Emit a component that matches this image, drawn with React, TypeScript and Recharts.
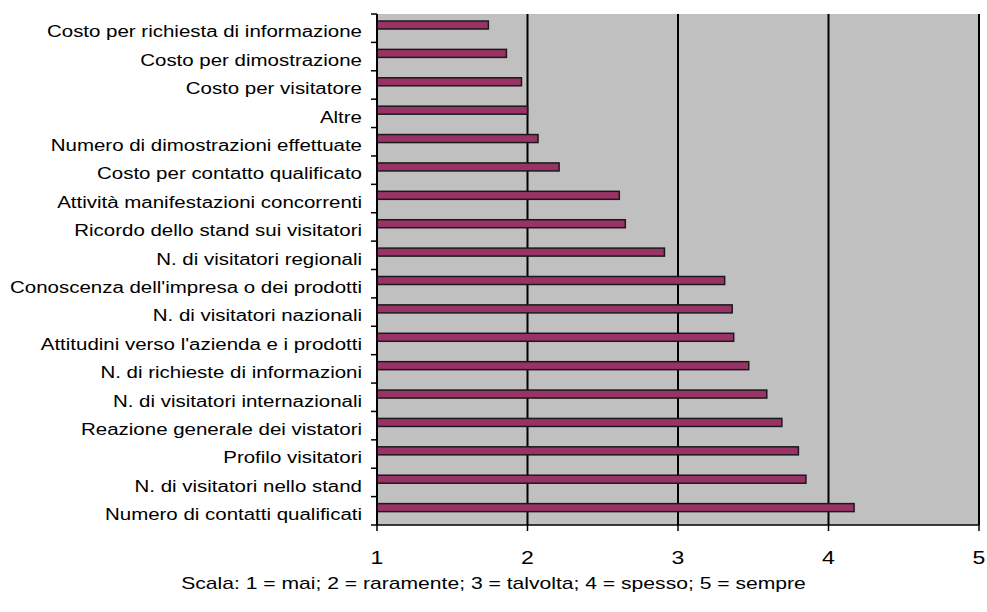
import React from 'react';
import { BarChart, Bar, XAxis, YAxis, CartesianGrid } from 'recharts';

// Evaluation criteria, listed top to bottom
const categories = [
  'Costo per richiesta di informazione',
  'Costo per dimostrazione',
  'Costo per visitatore',
  'Altre',
  'Numero di dimostrazioni effettuate',
  'Costo per contatto qualificato',
  'Attività manifestazioni concorrenti',
  'Ricordo dello stand sui visitatori',
  'N. di visitatori regionali',
  "Conoscenza dell'impresa o dei prodotti",
  'N. di visitatori nazionali',
  "Attitudini verso l'azienda e i prodotti",
  'N. di richieste di informazioni',
  'N. di visitatori internazionali',
  'Reazione generale dei vistatori',
  'Profilo visitatori',
  'N. di visitatori nello stand',
  'Numero di contatti qualificati',
];

// Average frequency score (1 = mai ... 5 = sempre)
const scores = [
  1.74, 1.86, 1.96, 2.0, 2.07, 2.21, 2.61, 2.65, 2.91,
  3.31, 3.36, 3.37, 3.47, 3.59, 3.69, 3.8, 3.85, 4.17,
];

const xTicks = [1, 2, 3, 4, 5];
const footnote = 'Scala: 1 = mai; 2 = raramente; 3 = talvolta; 4 = spesso; 5 = sempre';

const data = categories.map((name, i) => ({ name, score: scores[i] }));

const W = 987;
const H = 612;
const MARGIN = { top: 14, right: 8, bottom: 0, left: 0 };
const Y_AXIS_W = 377;
const X_AXIS_H = 87;
const PLOT_H = H - MARGIN.top - MARGIN.bottom - X_AXIS_H;
const BAND = PLOT_H / categories.length;
const FONT = '"Liberation Sans", Arial, Helvetica, sans-serif';
const STRETCH = 1.28;

const CategoryTick = (props: any) => {
  const { x, y, payload } = props;
  const index = props.index ?? payload.index;
  const isLast = index === categories.length - 1;
  return (
    <g>
      <line x1={x - 6} x2={x} y1={y - BAND / 2} y2={y - BAND / 2} stroke="#000" strokeWidth={1.5} />
      {isLast && (
        <line x1={x - 6} x2={x} y1={y + BAND / 2} y2={y + BAND / 2} stroke="#000" strokeWidth={1.5} />
      )}
      <text
        transform={`translate(${x - 15},${y + 9.3}) scale(${STRETCH},1)`}
        textAnchor="end"
        fontFamily={FONT}
        fontSize={16}
        fill="#000"
      >
        {payload.value}
      </text>
    </g>
  );
};

const ValueTick = (props: any) => {
  const { x, y, payload } = props;
  return (
    <text
      transform={`translate(${x},${y + 32.5}) scale(${STRETCH},1)`}
      textAnchor="middle"
      fontFamily={FONT}
      fontSize={18}
      fill="#000"
    >
      {payload.value}
    </text>
  );
};

const Footnote = () => (
  <text
    transform={`translate(${W / 2},589) scale(1.32,1)`}
    textAnchor="middle"
    fontFamily={FONT}
    fontSize={16}
    fill="#000"
  >
    {footnote}
  </text>
);

const ScoreBar = (props: any) => {
  const { x, y, width, height, fill } = props;
  return (
    <rect
      x={x}
      y={y - 3}
      width={width}
      height={height}
      fill={fill}
      stroke="#1a1a1a"
      strokeWidth={1.5}
    />
  );
};

export default function App() {
  return (
    <div style={{ position: 'absolute', left: 0, top: 0, width: W, height: H, background: '#fff' }}>
      <BarChart width={W} height={H} data={data} layout="vertical" margin={MARGIN}>
        <CartesianGrid horizontal={false} vertical stroke="#000" strokeWidth={2} fill="#c0c0c0" />
        <XAxis
          type="number"
          domain={[1, 5]}
          ticks={xTicks}
          allowDataOverflow
          height={X_AXIS_H}
          axisLine={{ stroke: '#000', strokeWidth: 1.5 }}
          tickLine={{ stroke: '#000', strokeWidth: 1.5 }}
          tickSize={6}
          tickMargin={0}
          tick={<ValueTick />}
          label={<Footnote />}
        />
        <XAxis
          xAxisId="top"
          orientation="top"
          type="number"
          domain={[1, 5]}
          height={0}
          tick={false}
          tickLine={false}
          axisLine={{ stroke: '#8a8a8a', strokeWidth: 1.5 }}
        />
        <YAxis
          type="category"
          dataKey="name"
          width={Y_AXIS_W}
          axisLine={{ stroke: '#000', strokeWidth: 1.5 }}
          tickLine={false}
          tickSize={0}
          tickMargin={0}
          interval={0}
          tick={<CategoryTick />}
        />
        <YAxis
          yAxisId="right"
          orientation="right"
          type="category"
          dataKey="name"
          width={0}
          tick={false}
          tickLine={false}
          axisLine={{ stroke: '#8a8a8a', strokeWidth: 2 }}
        />
        <Bar
          dataKey="score"
          fill="#993366"
          barSize={8}
          shape={<ScoreBar />}
          isAnimationActive={false}
        />
      </BarChart>
    </div>
  );
}
